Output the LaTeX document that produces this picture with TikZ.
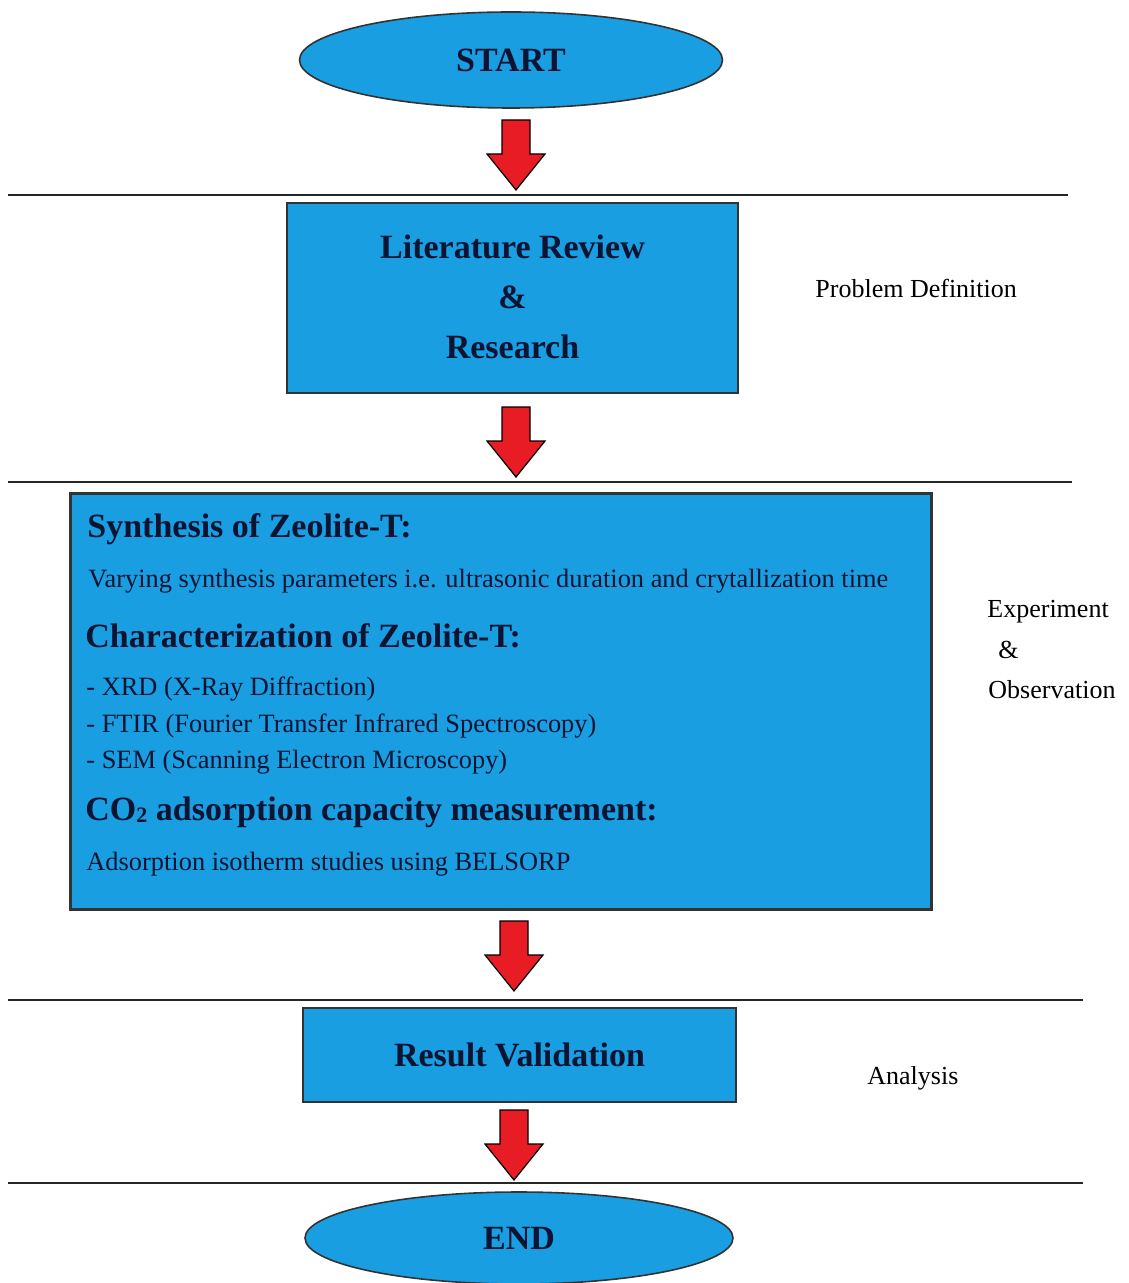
\documentclass[tikz,border=0pt]{standalone}
\usepackage{fontspec}
\setmainfont{Liberation Serif}
\usepackage{tikz}
\usetikzlibrary{shapes.geometric,positioning,calc}

\definecolor{boxblue}{RGB}{25,158,226}
\definecolor{inkblue}{RGB}{12,20,50}
\definecolor{arrowred}{RGB}{232,28,36}

\tikzset{
  blockarrow/.pic={
    \draw[fill=arrowred, draw=black, line width=0.6pt]
      (-14,0) -- (14,0) -- (14,34) -- (29,34) -- (0,70) -- (-29,34) -- (-14,34) -- cycle;
  }
}

\begin{document}
\begin{tikzpicture}[
  x=0.5pt, y=-0.5pt,
  terminal/.style={ellipse, draw=black!80, fill=boxblue, line width=0.8pt, text=inkblue, font=\fontsize{17}{20}\selectfont\bfseries},
  stage/.style={rectangle, draw=black!80, fill=boxblue, line width=0.8pt, text=inkblue, align=center, font=\fontsize{17}{25}\selectfont\bfseries},
  heading/.style={anchor=base west, inner sep=0pt, text=inkblue, font=\fontsize{17}{20}\selectfont\bfseries},
  body/.style={anchor=base west, inner sep=0pt, text=inkblue, font=\fontsize{13.2}{16}\selectfont},
  phase/.style={anchor=base west, inner sep=0pt, font=\fontsize{13}{16}\selectfont},
  divider/.style={line width=1pt, draw=black!85}
]
  \useasboundingbox (0,0) rectangle (1128,1283);

  % stages
  \node[terminal, minimum width=211.5pt, minimum height=48pt] (start) at (511,60) {START};
  \node[stage, minimum width=225.5pt, minimum height=95pt] (litrev) at (512.5,298) {\raisebox{1.5pt}{Literature Review}\\\raisebox{1.5pt}{\&}\\\raisebox{1.5pt}{Research}};
  \node[stage, line width=1.5pt, minimum width=430.5pt, minimum height=208pt] (expt) at (500.5,701) {};
  \node[stage, minimum width=216.5pt, minimum height=47pt] (valid) at (519.5,1055) {Result Validation};
  \node[terminal, minimum width=214pt, minimum height=46pt] (finish) at (519,1238) {END};

  % experiment box contents
  \node[heading] (syn) at (87,537) {Synthesis of Zeolite-T:};
  \node[body] (synpar) at (88,587) {Varying synthesis parameters i.e. ultrasonic duration and crytallization time};
  \node[heading] (char) at (85,647) {Characterization of Zeolite-T:};
  \node[body] (xrd) at (86,695) {- XRD (X-Ray Diffraction)};
  \node[body] (ftir) at (86,732) {- FTIR (Fourier Transfer Infrared Spectroscopy)};
  \node[body] (sem) at (86,768) {- SEM (Scanning Electron Microscopy)};
  \node[heading] (co2) at (85,820) {CO{\fontsize{11}{12}\selectfont\raisebox{-1pt}{2}} adsorption capacity measurement:};
  \node[body] (ads) at (86,870) {Adsorption isotherm studies using BELSORP};

  % phases
  \draw[divider] (8,195) -- (1068,195);
  \draw[divider] (8,482) -- (1072,482);
  \draw[divider] (8,1000) -- (1083,1000);
  \draw[divider] (8,1183) -- (1083,1183);
  \node[phase] (probdef) at (815,298) {Problem Definition};
  \node[phase] (expobs) at (987,617) {Experiment};
  \node[phase] (expamp) at (998,658) {\&};
  \node[phase] (expobs2) at (988,698) {Observation};
  \node[phase] (analysis) at (867,1084) {Analysis};

  % flow arrows
  \pic at (516,120) {blockarrow};
  \pic at (516,407) {blockarrow};
  \pic at (514,921) {blockarrow};
  \pic at (514,1110) {blockarrow};
\end{tikzpicture}
\end{document}
